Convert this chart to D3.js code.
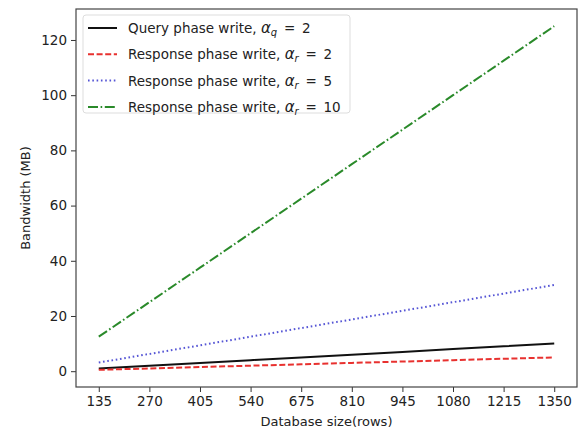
<!DOCTYPE html>
<html>
<head>
<meta charset="utf-8">
<script src="https://cdn.jsdelivr.net/npm/d3@7"></script>
<style>
  body { margin: 0; background: #fff; }
  text { font-family: "DejaVu Sans", sans-serif; fill: #222; }
</style>
</head>
<body>
<div id="chart"></div>
<script>
// database sizes (rows)
var rows = [135, 270, 405, 540, 675, 810, 945, 1080, 1215, 1350];
// bandwidth in MB
var queryQ2 = [1, 2, 3, 4, 5, 6, 7, 8, 9, 10];
var respR2 = [0.5, 1, 1.5, 2, 2.5, 3, 3.5, 4, 4.5, 5];
var respR5 = [3.125, 6.25, 9.375, 12.5, 15.625, 18.75, 21.875, 25, 28.125, 31.25];
var respR10 = [12.5, 25, 37.5, 50, 62.5, 75, 87.5, 100, 112.5, 125];
var yTicks = [0, 20, 40, 60, 80, 100, 120];

var series = [
  {label: "Query phase write, ", sym: "q", val: "2", data: queryQ2, color: "#111", dash: null},
  {label: "Response phase write, ", sym: "r", val: "2", data: respR2, color: "#e8312f", dash: "6,2.6"},
  {label: "Response phase write, ", sym: "r", val: "5", data: respR5, color: "#5555d5", dash: "1.6,2.7"},
  {label: "Response phase write, ", sym: "r", val: "10", data: respR10, color: "#2a8a2a", dash: "10,2.6,1.6,2.6"}
];

var width = 588, height = 431;
var margin = {left: 76, right: 11, top: 9, bottom: 44};

var svg = d3.select("#chart").append("svg")
  .attr("width", width).attr("height", height);

var x = d3.scaleLinear()
  .domain([135 - 60.75, 1350 + 60.75])
  .range([margin.left, width - margin.right]);

var y = d3.scaleLinear()
  .domain([-5.725, 131.225])
  .range([height - margin.bottom, margin.top]);

var xAxis = d3.axisBottom(x).tickValues(rows).tickFormat(d3.format("d")).tickSize(5).tickPadding(4);
var yAxis = d3.axisLeft(y).tickValues(yTicks).tickFormat(d3.format("d")).tickSize(5).tickPadding(4);

var gx = svg.append("g")
  .attr("transform", "translate(0," + (height - margin.bottom) + ")")
  .call(xAxis);
var gy = svg.append("g")
  .attr("transform", "translate(" + margin.left + ",0)")
  .call(yAxis);

[gx, gy].forEach(function(g) {
  g.select(".domain").remove();
  g.selectAll("line").attr("stroke", "#333");
  g.selectAll("text").style("font-size", "13.5px").attr("fill", "#1a1a1a");
});

// frame
svg.append("rect")
  .attr("x", margin.left).attr("y", margin.top)
  .attr("width", width - margin.left - margin.right)
  .attr("height", height - margin.top - margin.bottom)
  .attr("fill", "none").attr("stroke", "#444").attr("stroke-width", 1.2);

var line = d3.line()
  .x(function(d, i) { return x(rows[i]); })
  .y(function(d) { return y(d); });

series.forEach(function(s) {
  svg.append("path")
    .attr("d", line(s.data))
    .attr("fill", "none")
    .attr("stroke", s.color)
    .attr("stroke-width", 2)
    .attr("stroke-dasharray", s.dash);
});

// axis labels
svg.append("text")
  .attr("x", (margin.left + width - margin.right) / 2)
  .attr("y", 426)
  .attr("text-anchor", "middle")
  .style("font-size", "13px")
  .text("Database size(rows)");

svg.append("text")
  .attr("transform", "translate(30," + ((margin.top + height - margin.bottom) / 2) + ") rotate(-90)")
  .attr("text-anchor", "middle")
  .style("font-size", "13px")
  .text("Bandwidth (MB)");

// legend
var legend = svg.append("g").attr("transform", "translate(83,15)");
legend.append("rect")
  .attr("width", 267).attr("height", 98)
  .attr("rx", 3)
  .attr("fill", "#fff").attr("stroke", "#ddd");

series.forEach(function(s, i) {
  var ly = 13 + i * 26.3;
  legend.append("line")
    .attr("x1", 5).attr("x2", 34)
    .attr("y1", ly).attr("y2", ly)
    .attr("stroke", s.color).attr("stroke-width", 2)
    .attr("stroke-dasharray", s.dash);
  var t = legend.append("text")
    .attr("x", 45).attr("y", ly + 5)
    .style("font-size", "13.5px");
  t.append("tspan").text(s.label);
  t.append("tspan").style("font-style", "italic").style("font-size", "15px").text("α");
  t.append("tspan").style("font-style", "italic").style("font-size", "10px")
    .attr("dy", 3).text(s.sym);
  t.append("tspan").attr("dy", -3).text("\u2002=\u2002" + s.val);
});
</script>
</body>
</html>
